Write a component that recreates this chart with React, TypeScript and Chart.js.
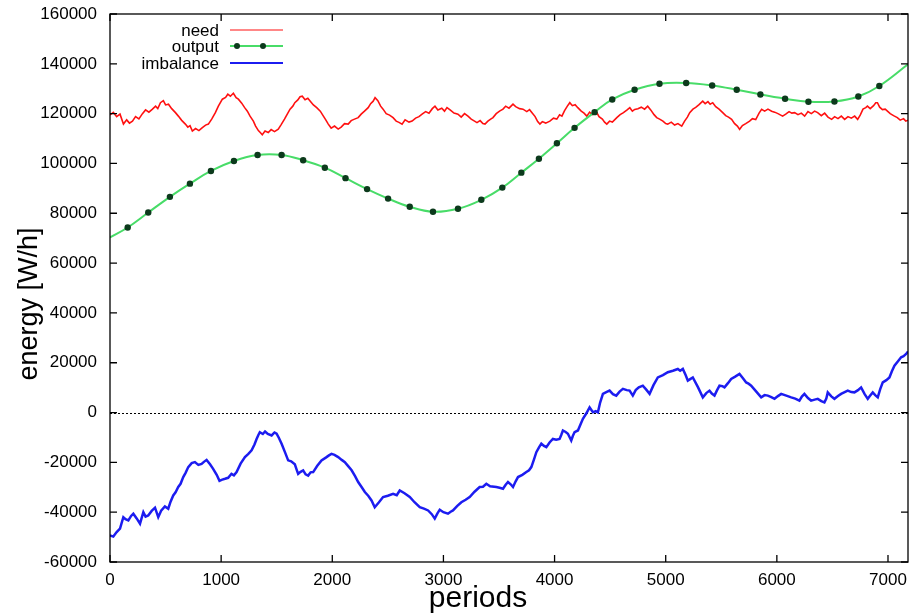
import React, { useEffect, useRef } from 'react';
import { Chart, registerables } from 'chart.js';
Chart.register(...registerables);

const xTickValues = [0, 1000, 2000, 3000, 4000, 5000, 6000, 7000];
const xTickLabels = ['0', '1000', '2000', '3000', '4000', '5000', '6000', '7000'];
const yTickValues = [-60000, -40000, -20000, 0, 20000, 40000, 60000, 80000, 100000, 120000, 140000, 160000];
const yTickLabels = ['-60000', '-40000', '-20000', '0', '20000', '40000', '60000', '80000', '100000', '120000', '140000', '160000'];

const needPeriods = [0, 30, 60, 90, 121, 150, 175, 202, 230, 260, 292, 320, 350, 382, 410, 430, 454, 480, 500, 526, 555, 589, 615, 645, 678, 700, 720, 741, 770, 800, 831, 860, 885, 915, 948, 975, 1011, 1040, 1060, 1083, 1110, 1135, 1155, 1185, 1210, 1236, 1260, 1290, 1310, 1335, 1352, 1370, 1395, 1424, 1450, 1480, 1514, 1540, 1570, 1595, 1620, 1645, 1663, 1690, 1710, 1730, 1755, 1780, 1802, 1830, 1860, 1892, 1920, 1940, 1964, 1990, 2020, 2053, 2080, 2110, 2143, 2170, 2200, 2233, 2260, 2290, 2323, 2345, 2368, 2385, 2410, 2435, 2457, 2485, 2515, 2547, 2575, 2600, 2628, 2655, 2690, 2718, 2750, 2780, 2808, 2840, 2870, 2900, 2924, 2950, 2985, 3010, 3032, 3060, 3095, 3131, 3160, 3190, 3221, 3250, 3280, 3302, 3330, 3355, 3374, 3400, 3425, 3446, 3475, 3505, 3536, 3560, 3590, 3626, 3650, 3685, 3716, 3750, 3775, 3797, 3825, 3848, 3868, 3890, 3920, 3958, 3990, 4020, 4045, 4066, 4090, 4115, 4137, 4160, 4185, 4209, 4240, 4265, 4290, 4315, 4340, 4380, 4400, 4430, 4450, 4470, 4495, 4520, 4560, 4590, 4620, 4650, 4677, 4700, 4721, 4750, 4780, 4810, 4838, 4865, 4895, 4919, 4945, 4975, 5000, 5018, 5050, 5080, 5110, 5144, 5170, 5195, 5216, 5245, 5270, 5300, 5333, 5355, 5380, 5400, 5423, 5450, 5480, 5513, 5540, 5565, 5593, 5620, 5645, 5665, 5690, 5720, 5755, 5780, 5810, 5840, 5863, 5890, 5920, 5953, 5980, 6010, 6052, 6080, 6110, 6135, 6160, 6190, 6220, 6250, 6280, 6310, 6340, 6367, 6400, 6430, 6460, 6493, 6520, 6550, 6580, 6610, 6640, 6670, 6700, 6727, 6750, 6775, 6800, 6815, 6840, 6870, 6890, 6905, 6925, 6950, 6975, 6995, 7020, 7050, 7084, 7110, 7140, 7160, 7180];
const needValues = [119500, 120500, 118800, 119800, 115800, 117500, 116200, 117000, 118800, 117900, 120000, 121500, 120600, 121800, 123000, 122000, 124400, 125200, 123500, 123800, 122000, 120400, 119000, 117300, 115800, 114600, 115200, 113000, 114000, 113200, 114400, 115400, 115800, 117800, 120400, 123000, 125800, 126500, 127800, 127000, 128200, 126400, 125800, 124200, 122500, 121000, 119000, 117000, 115000, 113200, 112400, 111500, 113000, 112400, 113600, 112800, 113800, 115600, 117800, 119800, 121800, 123000, 124400, 125500, 126800, 127000, 125600, 126200, 125000, 123500, 122400, 121000, 119000, 117600, 115800, 114200, 115000, 113800, 114600, 116000, 115800, 117200, 117800, 118400, 119800, 121000, 122400, 124000, 125000, 126400, 125200, 123000, 121800, 120000, 119400, 118400, 117000, 116500, 115800, 117500, 116600, 117000, 118200, 118800, 119800, 120800, 120200, 122000, 123000, 121500, 122200, 121000, 122400, 121500, 120200, 119800, 118600, 120000, 119000, 117800, 117000, 116400, 117200, 116000, 115800, 117000, 117800, 118400, 120000, 121000, 121800, 123000, 122200, 123800, 122800, 122000, 121800, 120800, 121600, 120400, 118800, 116800, 115800, 116800, 116200, 117000, 118200, 117800, 119500, 119000, 121200, 123000, 124400, 123200, 123600, 122400, 121000, 120200, 119000, 120600, 119600, 120400, 118800, 117800, 116600, 115800, 117000, 116600, 118400, 119600, 120400, 121400, 122400, 121000, 121700, 122000, 122600, 121800, 123000, 121500, 119600, 118400, 117800, 117000, 116000, 115800, 116600, 115400, 116000, 115000, 117000, 118600, 120400, 121800, 122500, 123600, 125000, 124000, 124800, 123800, 124400, 122800, 121800, 120400, 119200, 118600, 117700, 116000, 115000, 113700, 115200, 116000, 117000, 118000, 117600, 120200, 121700, 121000, 121800, 121000, 120600, 120000, 119000, 119800, 120800, 120200, 120400, 119600, 120200, 119000, 120800, 120000, 121000, 120400, 119200, 120200, 118600, 117700, 118800, 118000, 119000, 117700, 118800, 118200, 119000, 117700, 119400, 121800, 122400, 123000, 122000, 123200, 124400, 124400, 122600, 121600, 121800, 121000, 120000, 119200, 118400, 117400, 118000, 117000, 117400];

const outputPeriods = [0, 159, 344, 539, 719, 908, 1115, 1328, 1544, 1738, 1933, 2119, 2313, 2502, 2697, 2906, 3131, 3341, 3530, 3701, 3859, 4021, 4180, 4360, 4519, 4720, 4944, 5184, 5418, 5639, 5852, 6074, 6284, 6518, 6733, 6922, 7180];
const outputValues = [70300, 74300, 80300, 86600, 91900, 97000, 101000, 103400, 103400, 101300, 98300, 94100, 89700, 85900, 82600, 80600, 81800, 85400, 90300, 96300, 101900, 108100, 114300, 120600, 125700, 129600, 132000, 132300, 131300, 129600, 127700, 126000, 124800, 124900, 126900, 131100, 139800];

const imbalancePeriods = [0, 30, 60, 90, 120, 140, 165, 190, 210, 240, 270, 300, 320, 344, 375, 405, 434, 460, 494, 524, 545, 569, 590, 614, 635, 659, 680, 704, 735, 764, 795, 824, 845, 869, 900, 928, 960, 985, 1004, 1035, 1063, 1093, 1115, 1139, 1175, 1214, 1245, 1274, 1300, 1319, 1335, 1348, 1375, 1395, 1420, 1454, 1480, 1499, 1520, 1544, 1575, 1603, 1630, 1663, 1680, 1693, 1715, 1738, 1760, 1783, 1805, 1828, 1865, 1903, 1945, 1970, 1993, 2020, 2053, 2085, 2113, 2145, 2174, 2205, 2233, 2265, 2293, 2325, 2353, 2382, 2420, 2457, 2500, 2547, 2580, 2607, 2650, 2697, 2740, 2787, 2825, 2862, 2895, 2922, 2945, 2967, 3000, 3041, 3065, 3086, 3125, 3161, 3200, 3236, 3280, 3326, 3356, 3386, 3420, 3476, 3505, 3536, 3560, 3581, 3605, 3626, 3650, 3671, 3710, 3746, 3770, 3791, 3815, 3836, 3860, 3881, 3905, 3926, 3955, 3985, 4015, 4045, 4060, 4075, 4100, 4120, 4150, 4165, 4180, 4210, 4235, 4255, 4285, 4315, 4345, 4370, 4390, 4410, 4435, 4465, 4495, 4525, 4555, 4585, 4615, 4650, 4675, 4704, 4730, 4758, 4794, 4825, 4855, 4890, 4929, 4975, 5019, 5065, 5109, 5130, 5154, 5180, 5199, 5220, 5244, 5290, 5334, 5365, 5394, 5415, 5439, 5460, 5484, 5510, 5529, 5560, 5589, 5625, 5664, 5695, 5724, 5745, 5769, 5815, 5859, 5890, 5919, 5950, 5979, 6010, 6039, 6085, 6129, 6165, 6203, 6225, 6248, 6280, 6308, 6340, 6368, 6400, 6428, 6445, 6458, 6490, 6518, 6550, 6578, 6610, 6638, 6670, 6698, 6730, 6758, 6790, 6818, 6840, 6863, 6885, 6908, 6930, 6953, 6985, 7013, 7035, 7058, 7090, 7118, 7140, 7163, 7180];
const imbalanceValues = [-49300, -49800, -48000, -46600, -42000, -42800, -43300, -41500, -40600, -42500, -44600, -40000, -41800, -41300, -39500, -38200, -42000, -39400, -37700, -38600, -35800, -33300, -32000, -29900, -28600, -25900, -24200, -21900, -20300, -19900, -21000, -20600, -19800, -19000, -20800, -22600, -25000, -27400, -27000, -26600, -26200, -24600, -25200, -23900, -20500, -17900, -16600, -15200, -12800, -10600, -9000, -7900, -8600, -7600, -8600, -9200, -8000, -8500, -10200, -12500, -16000, -19200, -19600, -20800, -23000, -24600, -23800, -23200, -24800, -25300, -24000, -23900, -21400, -19200, -18000, -17200, -16600, -17000, -17900, -19000, -19900, -21600, -23200, -25500, -27900, -30000, -31900, -33500, -35300, -38000, -36000, -33900, -33400, -32600, -33200, -31300, -32400, -33900, -36000, -38000, -38600, -39300, -40800, -42600, -40600, -39000, -40000, -40600, -39800, -39300, -37500, -36000, -35000, -33900, -31800, -29900, -29800, -28600, -29600, -29900, -30200, -30600, -29000, -27900, -28800, -29900, -27600, -25900, -25000, -23900, -23200, -21900, -18800, -15900, -14000, -12500, -13400, -13900, -12000, -10600, -10900, -10600, -9000, -7200, -7800, -8500, -11200, -9300, -7900, -7200, -4600, -2500, -400, 2100, 100, 600, 100, 4000, 7500, 8200, 8800, 7400, 6800, 8400, 9500, 9000, 8800, 6800, 9000, 10100, 10800, 9200, 7500, 11000, 14100, 15000, 16200, 16800, 17500, 16800, 17500, 15000, 12800, 13400, 14100, 10200, 6100, 7800, 8800, 7600, 6800, 8800, 10800, 10600, 10100, 11800, 13500, 14400, 15500, 13800, 12100, 11600, 10800, 8400, 6100, 7000, 6800, 6200, 5500, 6600, 7500, 6800, 6100, 5600, 4800, 6400, 7500, 5800, 4800, 5200, 5500, 4600, 4100, 5600, 8100, 6500, 5500, 6600, 7500, 8200, 8800, 8200, 8100, 9000, 10100, 7400, 5500, 6800, 8100, 7000, 6100, 9400, 12100, 13000, 14100, 16600, 18800, 20600, 22200, 22600, 23500, 24500];

const legendLabels = ['need', 'output', 'imbalance'];
const xTitle = 'periods';
const yTitle = 'energy [W/h]';

const FONT = '"Liberation Sans", Arial, sans-serif';
const RED = '#ff1010';
const GREEN = '#48dc68';
const DOT = '#0c3a1c';
const BLUE = '#1c1cf0';

function pairs(xs: number[], ys: number[]) {
  return xs.map((x, i) => ({ x, y: ys[i] }));
}

const decorPlugin = {
  id: 'decor',
  beforeDatasetsDraw(chart: any) {
    const { ctx, chartArea, scales } = chart;
    const y0 = scales.y.getPixelForValue(0);
    ctx.save();
    ctx.strokeStyle = '#000';
    ctx.lineWidth = 1;
    ctx.setLineDash([2, 2]);
    ctx.beginPath();
    ctx.moveTo(chartArea.left, Math.round(y0) + 0.5);
    ctx.lineTo(chartArea.right, Math.round(y0) + 0.5);
    ctx.stroke();
    ctx.restore();
  },
  afterDraw(chart: any) {
    const { ctx, chartArea, scales } = chart;
    const { left, right, top, bottom } = chartArea;
    ctx.save();
    ctx.strokeStyle = '#000';
    ctx.lineWidth = 1.3;
    ctx.strokeRect(left, top, right - left, bottom - top);
    const tl = 7;
    ctx.beginPath();
    scales.x.ticks.forEach((t: any) => {
      const px = scales.x.getPixelForValue(t.value);
      ctx.moveTo(px, bottom); ctx.lineTo(px, bottom - tl);
      ctx.moveTo(px, top); ctx.lineTo(px, top + tl);
    });
    scales.y.ticks.forEach((t: any) => {
      const py = scales.y.getPixelForValue(t.value);
      ctx.moveTo(left, py); ctx.lineTo(left + tl, py);
      ctx.moveTo(right, py); ctx.lineTo(right - tl, py);
    });
    ctx.stroke();

    // legend
    const colors = [RED, GREEN, BLUE];
    const ys = [30, 46, 63];
    ctx.font = `17px ${FONT}`;
    ctx.textAlign = 'right';
    ctx.textBaseline = 'middle';
    legendLabels.forEach((lab, i) => {
      ctx.fillStyle = '#000';
      ctx.fillText(lab, 219, ys[i] + 1);
      ctx.strokeStyle = colors[i];
      ctx.lineWidth = i === 0 ? 1.2 : 2;
      ctx.beginPath();
      ctx.moveTo(230, ys[i]);
      ctx.lineTo(283, ys[i]);
      ctx.stroke();
      if (i === 1) {
        ctx.fillStyle = DOT;
        [237, 263].forEach((mx) => {
          ctx.beginPath();
          ctx.arc(mx, ys[i], 3, 0, Math.PI * 2);
          ctx.fill();
        });
      }
    });

    // axis titles
    ctx.fillStyle = '#000';
    ctx.textAlign = 'center';
    ctx.textBaseline = 'middle';
    ctx.font = `30px ${FONT}`;
    ctx.fillText(xTitle, 478, 599);
    ctx.font = `27px ${FONT}`;
    ctx.translate(30, 304);
    ctx.rotate(-Math.PI / 2);
    ctx.fillText(yTitle, 0, 0);
    ctx.restore();
  },
};

export default function App() {
  const ref = useRef<HTMLCanvasElement | null>(null);
  useEffect(() => {
    if (!ref.current) return;
    const chart = new Chart(ref.current, {
      type: 'line',
      data: {
        datasets: [
          {
            label: legendLabels[1],
            data: pairs(outputPeriods, outputValues),
            borderColor: GREEN,
            borderWidth: 2,
            tension: 0.4,
            pointRadius: (c: any) => (c.dataIndex === 0 || c.dataIndex === outputPeriods.length - 1 ? 0 : 3.2),
            pointBackgroundColor: DOT,
            pointBorderColor: DOT,
            pointBorderWidth: 0,
          },
          {
            label: legendLabels[0],
            data: pairs(needPeriods, needValues),
            borderColor: RED,
            borderWidth: 1.6,
            pointRadius: 0,
            tension: 0,
          },
          {
            label: legendLabels[2],
            data: pairs(imbalancePeriods, imbalanceValues),
            borderColor: BLUE,
            borderWidth: 2.5,
            pointRadius: 0,
            tension: 0,
          },
        ],
      },
      options: {
        animation: false,
        responsive: false,
        events: [],
        layout: { padding: { top: 14, right: 5, left: 0, bottom: 0 } },
        plugins: { legend: { display: false }, tooltip: { enabled: false } },
        scales: {
          x: {
            type: 'linear',
            min: 0,
            max: 7180,
            bounds: 'data',
            grid: { display: false, drawTicks: false },
            border: { display: false },
            afterBuildTicks: (s: any) => {
              s.ticks = xTickValues.map((value) => ({ value }));
            },
            ticks: {
              padding: 8,
              color: '#000',
              font: { family: FONT, size: 17 },
              maxRotation: 0,
              autoSkip: false,
              callback: (v: any) => xTickLabels[xTickValues.indexOf(Number(v))] ?? '',
            },
            afterFit: (s: any) => {
              s.height = 51;
              s.paddingLeft = 0;
              s.paddingRight = 0;
            },
          },
          y: {
            type: 'linear',
            min: -60000,
            max: 160000,
            bounds: 'data',
            grid: { display: false, drawTicks: false },
            border: { display: false },
            afterBuildTicks: (s: any) => {
              s.ticks = yTickValues.map((value) => ({ value }));
            },
            ticks: {
              padding: 13,
              color: '#000',
              autoSkip: false,
              font: { family: FONT, size: 17 },
              callback: (v: any) => yTickLabels[yTickValues.indexOf(Number(v))] ?? '',
            },
            afterFit: (s: any) => {
              s.width = 110;
              s.paddingTop = 0;
              s.paddingBottom = 0;
            },
          },
        },
      },
      plugins: [decorPlugin],
    } as any);
    return () => chart.destroy();
  }, []);
  return (
    <div style={{ position: 'absolute', left: 0, top: 0, width: 913, height: 613, background: '#fff' }}>
      <canvas ref={ref} width={913} height={613} style={{ width: 913, height: 613 }} />
    </div>
  );
}
